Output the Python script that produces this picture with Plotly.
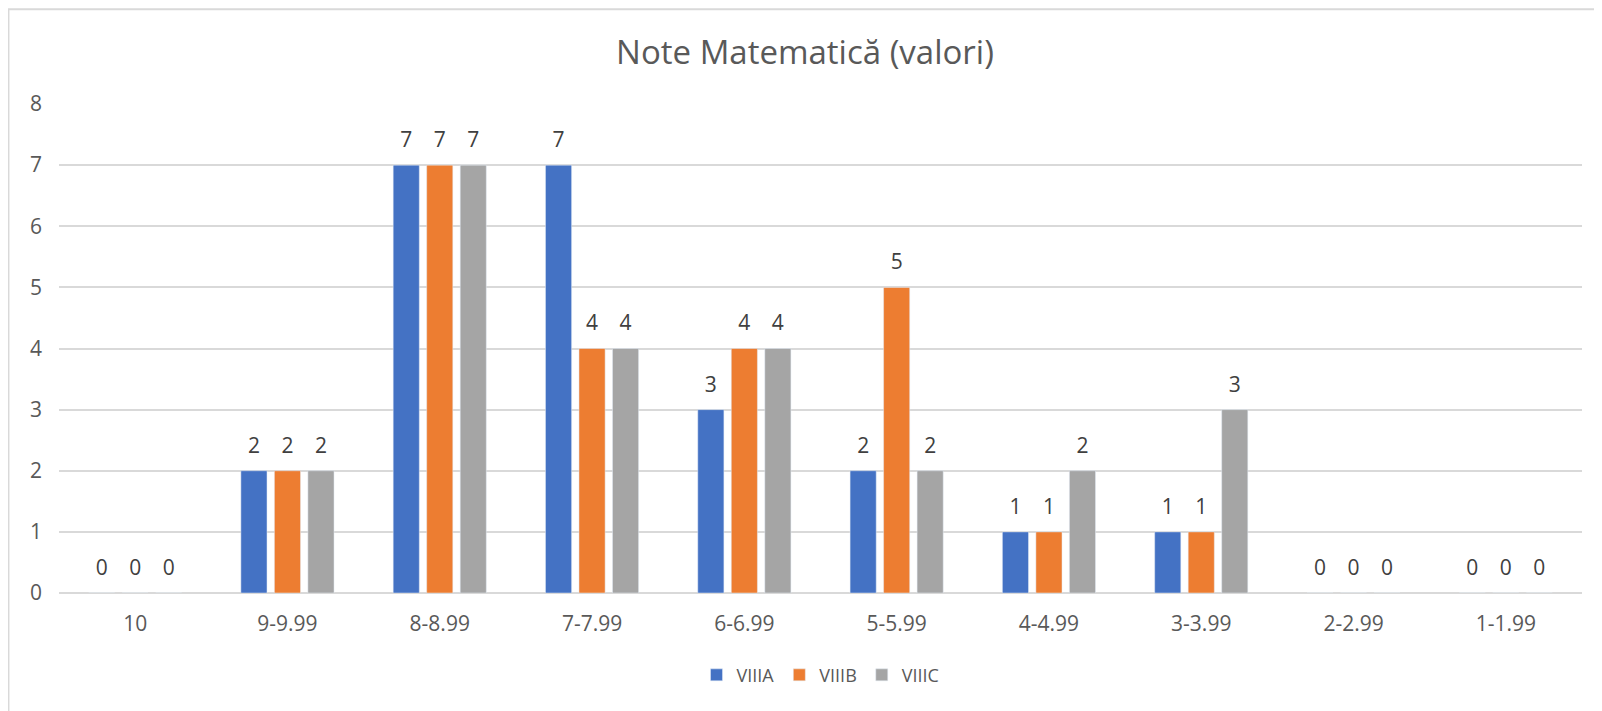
"""Excel-style clustered bar chart: Note Matematică (valori)."""

import plotly.graph_objects as go

categories = ["10", "9-9.99", "8-8.99", "7-7.99", "6-6.99",
              "5-5.99", "4-4.99", "3-3.99", "2-2.99", "1-1.99"]
viiia = [0, 2, 7, 7, 3, 2, 1, 1, 0, 0]
viiib = [0, 2, 7, 4, 4, 5, 1, 1, 0, 0]
viiic = [0, 2, 7, 4, 4, 2, 2, 3, 0, 0]

series = (("VIIIA", viiia, "#4472C4"), ("VIIIB", viiib, "#ED7D31"), ("VIIIC", viiic, "#A5A5A5"))
FONT = "Open Sans"

fig = go.Figure()
for name, vals, color in series:
    fig.add_trace(go.Bar(
        x=categories, y=vals, name=name, marker_color=color,
        offsetgroup=name, hoverinfo="skip",
    ))
# data labels, grouped the same way as the bars
for name, vals, color in series:
    fig.add_trace(go.Scatter(
        x=categories, y=vals, mode="markers+text", text=[str(v) for v in vals],
        textposition="top center", offsetgroup=name, showlegend=False,
        marker=dict(size=19, opacity=0), cliponaxis=False, hoverinfo="skip",
        textfont=dict(family=FONT, size=21, color="#404040"),
    ))

# page has an 8px body margin, so the figure is 8px smaller than the window
fig.update_layout(
    width=1594, height=703,
    paper_bgcolor="white", plot_bgcolor="white",
    barmode="group", bargap=0.34, bargroupgap=0.22,
    scattermode="group", scattergap=0.34,
    margin=dict(l=51, r=20, t=96, b=118),
    font=dict(family=FONT, color="#595959", size=21),
    title=dict(text="Note Matematică (valori)", x=0.5, xanchor="center",
               y=0.937, yanchor="middle",
               font=dict(family=FONT, size=33, color="#595959")),
    legend=dict(orientation="h", x=0.5, xanchor="center", y=-0.168, yanchor="middle",
                font=dict(family=FONT, size=18, color="#595959"),
                itemwidth=30, traceorder="normal"),
    shapes=[dict(type="rect", xref="paper", yref="paper",
                 x0=-0.0332, x1=1.2, y0=-0.5, y1=1.194,
                 line=dict(color="#d9d9d9", width=2), layer="below")],
)
fig.update_xaxes(showgrid=False, showline=False, ticks="", ticklabelstandoff=16,
                 tickfont=dict(size=21, color="#595959"))
fig.update_yaxes(range=[0, 8], dtick=1, showgrid=True, gridcolor="#d9d9d9", gridwidth=1.5,
                 zeroline=True, zerolinecolor="#d9d9d9", zerolinewidth=1.5,
                 showline=False, ticks="", ticklabelstandoff=16,
                 tickfont=dict(size=21, color="#595959"))

fig.write_html("out.html")
